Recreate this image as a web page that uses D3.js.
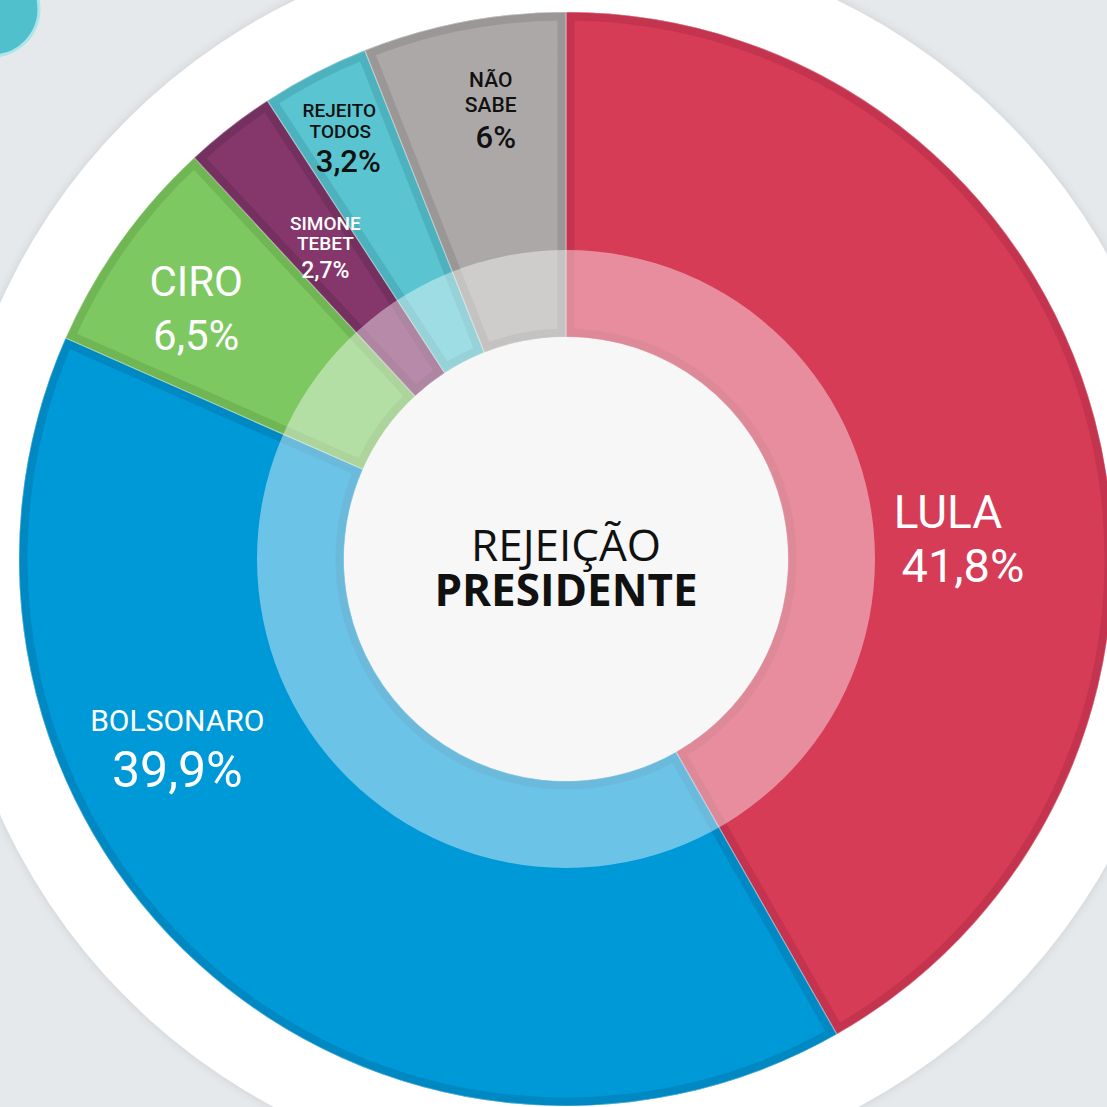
<!DOCTYPE html>
<html>
<head>
<meta charset="utf-8">
<script src="https://cdn.jsdelivr.net/npm/d3@7"></script>
<style>
  html, body { margin: 0; padding: 0; background: #e6e9ec; }
  svg { display: block; }
</style>
</head>
<body>
<div id="chart"></div>
<script>
const names = ["LULA", "BOLSONARO", "CIRO", "SIMONE TEBET", "REJEITO TODOS", "NÃO SABE"];
const values = [41.8, 39.9, 6.5, 2.7, 3.2, 6];
const valueLabels = ["41,8%", "39,9%", "6,5%", "2,7%", "3,2%", "6%"];
const nameLines = [["LULA"], ["BOLSONARO"], ["CIRO"], ["SIMONE", "TEBET"], ["REJEITO", "TODOS"], ["NÃO", "SABE"]];
const centerTitle = ["REJEIÇÃO", "PRESIDENTE"];

const fills = ["#d63c56", "#0099d8", "#7ec862", "#85366b", "#5ac5d0", "#aca8a8"];
const edges = ["#c4344e", "#0088c2", "#70b655", "#74305e", "#4db2bd", "#9c9797"];
const textColors = ["#fff", "#fff", "#fff", "#fff", "#111", "#111"];

// where each label block sits (angle in degrees clockwise from top, radius) and its lines
const labelLayout = [
  {angle: 89.4, r: 389, lines: [{dx: -7, dy: -27, size: 46, w: 400}, {dx: 8, dy: 27, size: 47, w: 400}]},
  {angle: 242.8, r: 437, lines: [{dx: 0, dy: -28, size: 30, w: 400}, {dx: 0, dy: 28, size: 50, w: 400}]},
  {angle: 302.4, r: 438, lines: [{dx: 0, dy: -28, size: 42, w: 400}, {dx: 0, dy: 26, size: 42, w: 400}]},
  {angle: 321.9, r: 390, lines: [{dx: 0, dy: -22, size: 19, w: 500}, {dx: 0, dy: -2, size: 19, w: 500}, {dx: 0, dy: 26, size: 23, w: 500}]},
  {angle: 331.5, r: 473, lines: [{dx: -1, dy: -26, size: 19, w: 500}, {dx: 0, dy: -5, size: 19, w: 500}, {dx: 8, dy: 29, size: 31, w: 500}]},
  {angle: 350.5, r: 450, lines: [{dx: -1, dy: -28, size: 21, w: 500}, {dx: -1, dy: -3, size: 21, w: 500}, {dx: 4, dy: 33, size: 31, w: 500}]}
];

const width = 1107, height = 1107;
const cx = 566, cy = 559;
const outerR = 547, ringR = 309, holeR = 222;

const svg = d3.select("#chart").append("svg")
  .attr("width", width)
  .attr("height", height);

const defs = svg.append("defs");
defs.append("filter")
  .attr("id", "soft")
  .attr("x", "-20%").attr("y", "-20%").attr("width", "140%").attr("height", "140%")
  .append("feDropShadow")
  .attr("dx", 0).attr("dy", 0)
  .attr("stdDeviation", 5)
  .attr("flood-color", "#000")
  .attr("flood-opacity", 0.12);

svg.append("rect").attr("width", width).attr("height", height).attr("fill", "#e6e9ec");

// little teal circle at the corner
svg.append("circle")
  .attr("cx", -8).attr("cy", 9).attr("r", 47)
  .attr("fill", "#4fc0cc")
  .attr("stroke", "#aee5ea")
  .attr("stroke-width", 3);

// white disc behind the donut
svg.append("circle")
  .attr("cx", cx).attr("cy", cy).attr("r", 621)
  .attr("fill", "#fff")
  .attr("filter", "url(#soft)");

const g = svg.append("g").attr("transform", "translate(" + cx + "," + cy + ")");

const data = names.map((n, i) => ({name: n, value: values[i], i: i}));

const pie = d3.pie().value(d => d.value).sort(null);
const arcs = pie(data);

const arc = d3.arc().innerRadius(holeR).outerRadius(outerR);

arcs.forEach((a, i) => {
  defs.append("clipPath")
    .attr("id", "clip" + i)
    .append("path")
    .attr("d", arc(a));
});

const slices = g.selectAll("g.slice")
  .data(arcs)
  .join("g")
  .attr("class", "slice");

slices.append("path")
  .attr("d", arc)
  .attr("fill", d => fills[d.data.i]);

// darker inset edge
slices.append("path")
  .attr("d", arc)
  .attr("fill", "none")
  .attr("stroke", d => edges[d.data.i])
  .attr("stroke-width", 17)
  .attr("stroke-linejoin", "miter")
  .attr("clip-path", d => "url(#clip" + d.data.i + ")");

// thin light seam between slices
slices.append("path")
  .attr("d", arc)
  .attr("fill", "none")
  .attr("stroke", "#fff")
  .attr("stroke-opacity", 0.35)
  .attr("stroke-width", 1.2);

// translucent inner ring
g.append("path")
  .attr("d", d3.arc().innerRadius(holeR).outerRadius(ringR).startAngle(0).endAngle(2 * Math.PI)())
  .attr("fill", "#fff")
  .attr("fill-opacity", 0.42);

g.append("circle")
  .attr("r", holeR)
  .attr("fill", "#f7f7f7");

// centre title
g.append("text")
  .attr("text-anchor", "middle")
  .attr("y", 2)
  .attr("font-family", "'Open Sans', sans-serif")
  .attr("font-size", 44)
  .attr("fill", "#111")
  .text(centerTitle[0]);

g.append("text")
  .attr("text-anchor", "middle")
  .attr("y", 47)
  .attr("font-family", "'Open Sans', sans-serif")
  .attr("font-weight", 700)
  .attr("font-size", 44)
  .attr("fill", "#111")
  .text(centerTitle[1]);

// slice labels
const labels = g.selectAll("g.label")
  .data(arcs)
  .join("g")
  .attr("class", "label")
  .attr("transform", d => {
    const L = labelLayout[d.data.i];
    const t = L.angle * Math.PI / 180;
    return "translate(" + (L.r * Math.sin(t)) + "," + (-L.r * Math.cos(t)) + ")";
  });

labels.each(function(d) {
  const i = d.data.i;
  const L = labelLayout[i];
  const texts = nameLines[i].concat([valueLabels[i]]);
  d3.select(this).selectAll("text")
    .data(texts)
    .join("text")
    .attr("text-anchor", "middle")
    .attr("x", (t, k) => L.lines[k].dx)
    .attr("y", (t, k) => L.lines[k].dy)
    .attr("font-family", "Roboto, sans-serif")
    .attr("font-size", (t, k) => L.lines[k].size)
    .attr("font-weight", (t, k) => L.lines[k].w)
    .attr("fill", textColors[i])
    .text(t => t);
});
</script>
</body>
</html>
